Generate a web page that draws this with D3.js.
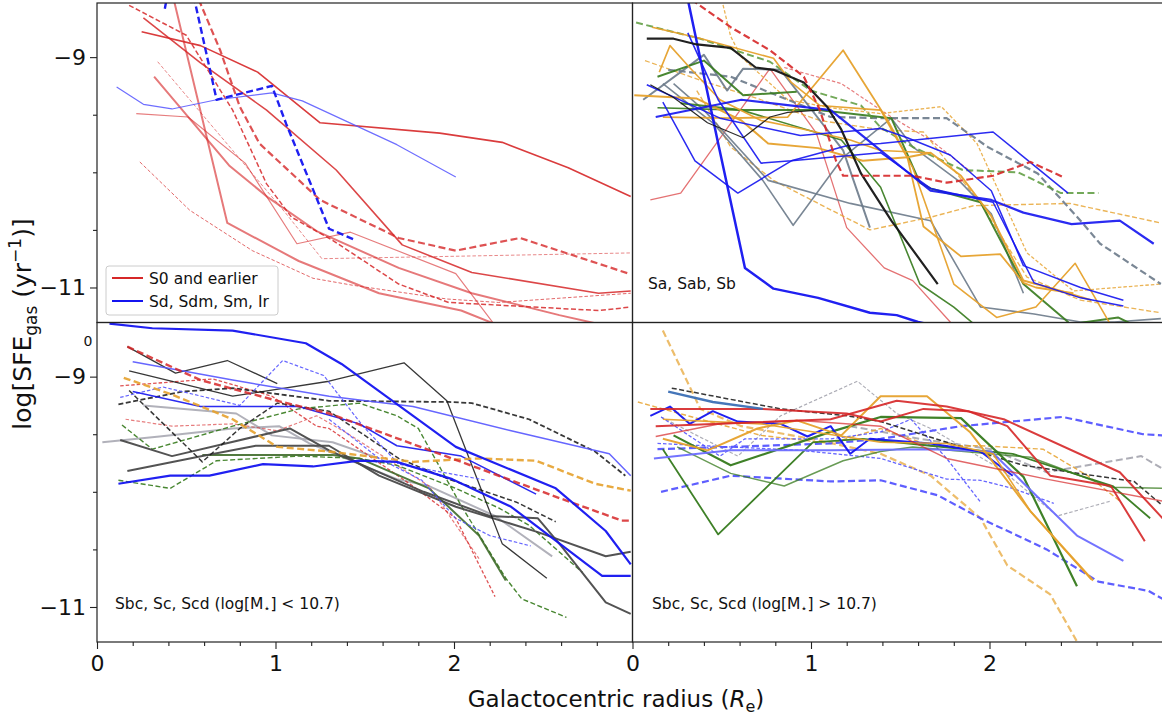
<!DOCTYPE html>
<html>
<head>
<meta charset="utf-8">
<script src="https://cdnjs.cloudflare.com/ajax/libs/d3/7.8.5/d3.min.js"></script>
<style>
body { margin: 0; background: #fff; }
text { font-family: "DejaVu Sans", sans-serif; fill: #111; }
</style>
</head>
<body>
<svg id="chart" width="1162" height="717"></svg>
<script>
// ---- tick values / labels ----
var xMajor = [0, 1, 2];
var xMinor = [0.2, 0.4, 0.6, 0.8, 1.2, 1.4, 1.6, 1.8, 2.2, 2.4, 2.6, 2.8];
var yMajor = [-9, -11];
var yMinor = [-9.5, -10, -10.5];
var panelNames = ["", "Sa, Sab, Sb", "Sbc, Sc, Scd (log[M", "Sbc, Sc, Scd (log[M"];
var panelTails = ["", "", "] < 10.7)", "] > 10.7)"];
var legendLabels = ["S0 and earlier", "Sd, Sdm, Sm, Ir"];

// ---- top left: S0 and earlier / Sd, Sdm, Sm, Ir ----
var tlBlueThin = [[0.11,-9.26],[0.26,-9.41],[0.42,-9.45],[0.67,-9.37],[0.98,-9.31],[1.15,-9.38],[1.68,-9.76],[2.01,-10.04]];
var tlBlueDash = [[0.38,-8.58],[0.46,-7.9],[0.67,-9.37],[0.98,-9.25],[1.06,-9.58],[1.30,-10.49],[1.45,-10.59]];
var tlRedA = [[0.25,-8.78],[0.58,-8.90],[0.90,-9.13],[1.25,-9.57],[1.92,-9.66],[2.27,-9.74],[2.64,-9.96],[2.99,-10.21]];
var tlRedB = [[0.26,-8.66],[0.58,-9.05],[0.95,-9.46],[1.34,-9.98],[1.71,-10.63],[2.10,-10.87],[2.81,-11.05],[2.99,-11.03]];
var tlRedC = [[0.43,-8.5],[0.73,-10.44],[1.13,-10.77],[1.58,-11.05],[2.04,-11.20],[2.25,-11.33]];
var tlRedD = [[0.32,-9.17],[0.74,-9.94],[0.96,-10.22],[1.23,-10.51],[1.69,-10.83],[2.10,-11.05],[2.59,-11.24],[2.99,-11.38]];
var tlRedE = [[0.22,-9.49],[0.51,-9.52],[0.83,-9.92],[1.12,-10.62],[1.42,-10.52],[2.01,-10.88],[2.24,-11.35]];
var tlRedDashA = [[0.57,-8.5],[0.69,-8.94],[0.80,-9.43],[0.91,-9.75],[1.25,-10.24],[1.69,-10.57],[2.01,-10.68],[2.37,-10.57],[2.98,-10.88]];
var tlRedDashB = [[0.18,-8.55],[0.50,-8.81],[0.76,-9.46],[0.95,-10.10],[1.09,-10.39],[1.32,-10.59],[1.69,-10.97],[1.97,-11.13],[2.81,-11.20],[2.99,-11.17]];
var tlRedDashC = [[0.34,-9.04],[0.76,-9.81],[1.06,-10.36],[1.26,-10.75],[1.97,-10.73],[2.99,-10.70]];
var tlRedDashD = [[0.24,-9.91],[0.52,-10.33],[0.87,-10.68],[1.21,-10.92],[1.43,-10.98],[1.96,-11.10],[2.25,-11.13],[2.99,-11.05]];

// ---- top right: Sa, Sab, Sb ----
var trBlack1 = [[0.08,-8.84],[0.23,-8.84],[0.36,-8.89],[0.55,-8.92],[0.69,-9.09],[0.79,-9.11],[0.96,-9.22],[1.09,-9.43],[1.17,-9.63],[1.28,-10.01],[1.45,-10.42],[1.71,-10.97]];
var trBlack2 = [[0.10,-9.24],[0.23,-9.35],[0.42,-9.57],[0.62,-9.70],[0.77,-9.52],[0.87,-9.48],[1.04,-9.46]];
var trBlue1 = [[0.31,-8.5],[0.48,-9.75],[0.63,-10.83],[0.79,-11.01],[1.04,-11.09],[1.33,-11.22],[1.48,-11.24],[1.60,-11.30],[1.75,-11.35]];
var trBlue2 = [[0.31,-8.79],[0.48,-9.37],[0.72,-9.92],[0.89,-9.90],[1.20,-9.77],[1.39,-9.75],[2.02,-9.65],[2.44,-10.18]];
var trBlue3 = [[0.13,-9.52],[0.61,-9.37],[1.11,-9.46],[1.39,-9.81],[1.67,-10.16],[2.01,-10.24],[2.19,-10.35],[2.46,-10.45],[2.73,-10.42],[2.92,-10.62]];
var trBlue4 = [[0.08,-9.24],[0.49,-9.53],[0.94,-9.68],[1.39,-9.62],[1.54,-9.70],[1.78,-9.85],[2.01,-10.16],[2.19,-10.81],[2.51,-11.00],[2.75,-11.11]];
var trBlue5 = [[0.17,-9.39],[0.35,-9.90],[0.59,-10.18],[0.89,-9.90],[1.39,-9.83],[1.67,-10.14],[2.02,-10.26],[2.25,-10.96],[2.51,-11.09],[2.75,-11.16]];
var trOrange1 = [[0.17,-9.52],[0.55,-9.53],[0.87,-9.52],[1.18,-8.94],[1.43,-9.55],[1.54,-9.87],[1.63,-10.47],[1.84,-10.73],[2.06,-10.71],[2.19,-10.96],[2.26,-11.00],[2.47,-11.05]];
var trOrange2 = [[0.11,-8.74],[0.36,-8.83],[0.79,-9.01],[0.89,-9.22],[1.05,-9.42],[1.39,-9.46],[1.57,-9.96],[1.80,-10.97],[2.04,-11.26],[2.26,-11.17],[2.48,-10.79],[2.67,-11.30],[2.70,-11.4]];
var trOrange3 = [[0.15,-9.13],[0.21,-8.90],[0.32,-9.09],[0.49,-9.37],[0.72,-9.55],[0.94,-9.62],[1.22,-9.72],[1.39,-9.81],[1.67,-9.83]];
var trOrange4 = [[0.01,-9.33],[0.36,-9.36],[0.61,-9.55],[0.76,-9.75],[1.04,-9.79],[1.29,-9.90],[1.54,-9.87],[1.67,-9.83],[1.84,-10.03],[2.01,-10.38],[2.19,-10.94],[2.40,-11.03],[2.57,-11.11]];
var trOrangeDash1 = [[0.50,-8.5],[0.55,-8.82],[0.61,-9.0],[0.87,-9.37],[1.11,-9.44],[1.39,-9.49],[1.73,-9.43],[1.93,-9.75],[2.21,-10.70],[2.47,-11.03],[2.96,-10.97]];
var trOrangeDash2 = [[0.36,-9.29],[0.55,-9.78],[0.79,-10.07],[1.04,-10.27],[1.33,-10.50],[1.67,-10.39],[1.91,-10.29],[2.45,-10.27],[2.96,-10.44]];
var trOrangeDash3 = [[0.07,-9.03],[0.38,-9.20],[0.72,-9.37],[1.05,-9.55],[1.39,-9.63],[1.63,-9.65],[1.95,-10.27],[2.21,-10.91],[2.51,-11.11],[2.96,-11.22]];
var trGreen1 = [[0.14,-9.17],[0.40,-9.03],[0.62,-9.33],[0.92,-9.30]];
var trGreen2 = [[0.14,-9.44],[0.61,-9.46],[1.17,-9.72],[1.39,-10.13],[1.61,-10.97],[1.80,-11.17],[1.90,-11.30],[1.95,-11.4]];
var trGreen3 = [[0.27,-9.40],[0.61,-9.46],[1.04,-9.46],[1.45,-9.53],[1.61,-10.09],[1.67,-10.14],[1.95,-10.26],[2.19,-10.97],[2.44,-11.30],[2.48,-11.4]];
var trGreen4 = [[2.45,-11.32],[2.72,-11.26],[2.80,-11.32]];
var trGreenDash = [[0.02,-8.70],[0.38,-8.84],[0.77,-9.04],[1.00,-9.29],[1.28,-9.42],[1.39,-9.61],[1.57,-9.78],[1.85,-9.98],[2.16,-10.00],[2.40,-10.18],[2.61,-10.18]];
var trGrey1 = [[0.06,-9.37],[0.40,-8.98],[0.53,-9.29],[0.62,-9.10],[0.83,-9.11],[0.96,-9.37],[1.18,-9.81],[1.33,-10.48]];
var trGrey2 = [[0.17,-9.23],[0.45,-9.57],[0.73,-10.07],[0.90,-10.46],[1.18,-9.87],[1.45,-9.53],[1.57,-9.78],[1.84,-10.09],[2.01,-10.36],[2.19,-11.05]];
var trGrey3 = [[0.23,-9.23],[0.40,-9.46],[0.76,-10.07],[1.22,-10.27],[1.67,-10.42],[1.95,-11.17],[2.25,-11.23],[2.51,-11.30],[2.70,-11.30],[2.96,-11.27]];
var trGreyDash = [[0.20,-9.11],[0.55,-9.17],[1.11,-9.52],[1.39,-9.53],[1.76,-9.53],[1.99,-9.78],[2.27,-10.01],[2.51,-10.42],[2.62,-10.62],[2.96,-10.97]];
var trRedDash = [[0.33,-8.5],[0.55,-8.74],[0.77,-8.94],[0.96,-9.17],[1.05,-9.46],[1.14,-9.90],[1.18,-10.03],[1.57,-10.03],[1.76,-10.09],[2.02,-10.03],[2.23,-9.91],[2.41,-10.04]];
var trRedDashLight = [[0.85,-9.09],[1.17,-9.23],[1.45,-9.52],[1.67,-9.72],[1.90,-10.0]];
var trRedThin = [[0.10,-10.24],[0.27,-10.18],[0.77,-9.10],[1.03,-9.66],[1.20,-10.48],[1.41,-10.83],[1.57,-10.94],[1.78,-11.30],[1.80,-11.35]];

// ---- bottom left: Sbc, Sc, Scd, low mass ----
var blBlueTop = [[0.07,-8.54],[0.31,-8.58],[0.76,-8.60],[1.17,-8.71],[1.37,-8.89],[2.01,-9.61],[2.57,-9.97],[2.85,-10.34],[2.99,-10.63]];
var blBlack1 = [[0.17,-8.74],[0.44,-8.97],[0.73,-8.86],[1.01,-9.06]];
var blBlack2 = [[0.18,-8.95],[0.76,-9.17],[1.30,-9.04],[1.72,-8.88],[1.96,-9.21],[2.27,-10.45],[2.52,-10.75]];
var blBlackDash1 = [[0.12,-9.24],[0.48,-9.13],[0.76,-9.10],[1.30,-9.21],[1.97,-9.22],[2.10,-9.23],[2.42,-9.37],[2.79,-9.65],[2.96,-9.86]];
var blBlackDash2 = [[0.18,-9.12],[0.59,-9.74],[0.80,-9.45],[1.01,-9.23],[1.30,-9.30],[1.69,-9.71],[1.97,-9.89],[2.35,-10.09],[2.57,-10.26]];
var blDim1 = [[0.13,-9.55],[0.42,-9.69],[1.08,-9.45],[1.30,-9.64],[1.83,-10.00],[2.20,-10.21],[2.47,-10.23],[2.60,-10.47],[2.85,-10.96],[2.99,-11.06]];
var blDim2 = [[0.17,-9.82],[0.59,-9.69],[0.89,-9.60],[1.30,-9.60],[1.58,-9.86],[2.01,-10.13],[2.47,-10.35],[2.85,-10.56],[2.99,-10.52]];
var blSilver1 = [[0.03,-9.57],[0.35,-9.52],[0.76,-9.45],[1.02,-9.43],[1.19,-9.58],[1.47,-9.76],[1.68,-9.89],[1.86,-9.95],[2.23,-10.21],[2.55,-10.56]];
var blSilver2 = [[0.26,-9.25],[0.78,-9.32],[0.98,-9.51],[1.32,-9.57],[1.58,-9.71]];
var blBlueBot = [[0.12,-9.93],[0.41,-9.86],[0.63,-9.86],[0.93,-9.76],[1.21,-9.78],[1.47,-9.73],[1.68,-9.74],[1.99,-9.89],[2.32,-10.13],[2.83,-10.73],[2.99,-10.73]];
var blBlueMid = [[0.20,-8.87],[0.76,-9.03],[1.30,-9.17],[1.77,-9.26],[2.32,-9.47],[2.87,-9.67],[2.99,-9.86]];
var blBlue2 = [[0.20,-9.13],[0.58,-9.26],[1.13,-9.26],[1.47,-9.41],[1.68,-9.60],[2.04,-9.69],[2.46,-10.02]];
var blBlueDash1 = [[0.13,-9.18],[0.37,-9.09],[0.80,-9.25],[1.04,-8.86],[1.27,-8.99],[1.49,-9.43],[1.69,-9.76],[2.18,-9.90]];
var blBlueDash2 = [[1.30,-9.37],[1.58,-9.71],[1.82,-9.90],[2.01,-10.23],[2.20,-10.38],[2.43,-10.47]];
var blRedDash1 = [[0.17,-8.74],[0.58,-9.03],[1.01,-9.21],[1.30,-9.32],[1.69,-9.54],[2.04,-9.74],[2.60,-10.06],[2.94,-10.25],[2.99,-10.25]];
var blRedDash2 = [[0.13,-9.08],[0.65,-9.02],[0.98,-9.17],[1.23,-9.43],[1.30,-9.45],[1.77,-9.95],[2.01,-10.23],[2.23,-10.91]];
var blRedDash3 = [[0.16,-9.37],[0.42,-9.43],[0.76,-9.41],[1.01,-9.47],[1.23,-9.34],[1.39,-9.48],[1.60,-9.69],[1.86,-9.95],[2.14,-10.58]];
var blOrangeDash = [[0.15,-9.01],[0.41,-9.15],[0.76,-9.37],[1.01,-9.61],[1.30,-9.65],[1.77,-9.74],[2.14,-9.71],[2.46,-9.73],[2.79,-9.93],[2.99,-9.99]];
var blGreenDash1 = [[0.14,-9.42],[0.31,-9.63],[0.76,-9.43],[1.13,-9.28],[1.47,-9.23],[1.68,-9.34],[1.80,-9.45],[2.04,-10.12],[2.29,-10.75],[2.38,-10.93],[2.63,-11.09]];
var blGreenDash2 = [[0.12,-9.90],[0.41,-9.97],[0.67,-9.73],[1.13,-9.69],[1.47,-9.71],[1.68,-9.77],[2.01,-9.97],[2.25,-10.14],[2.42,-10.29],[2.72,-10.70]];
var blGreen = [[0.59,-9.68],[1.32,-9.68],[1.47,-9.71],[1.86,-9.97],[2.14,-10.38],[2.29,-10.77]];

// ---- bottom right: Sbc, Sc, Scd, high mass ----
var brOrangeDash1 = [[0.17,-8.60],[0.38,-9.28],[0.61,-9.43],[1.00,-9.54],[1.39,-9.67],[1.67,-9.86],[1.95,-10.23],[2.10,-10.64],[2.34,-10.89],[2.49,-11.30],[2.51,-11.4]];
var brOrangeDash2 = [[0.03,-9.22],[0.38,-9.37],[0.72,-9.51],[1.11,-9.58],[1.39,-9.45],[1.67,-9.60],[1.95,-9.60],[2.30,-9.63],[2.55,-9.86],[2.73,-10.08]];
var brOrange1 = [[0.17,-9.54],[0.42,-9.64],[0.70,-9.45],[0.92,-9.38],[1.17,-9.51],[1.39,-9.17],[1.65,-9.17],[1.89,-9.48],[2.23,-10.17],[2.58,-10.77]];
var brOrange2 = [[0.17,-9.37],[0.72,-9.41],[1.39,-9.57],[1.76,-9.58],[2.02,-9.67],[2.23,-10.17],[2.57,-10.76]];
var brRedA = [[0.10,-9.28],[0.73,-9.28],[1.20,-9.32],[1.39,-9.39],[1.63,-9.28],[1.88,-9.30],[2.10,-9.43],[2.34,-9.86],[2.68,-9.95],[2.87,-10.43]];
var brRedB = [[0.13,-9.43],[1.11,-9.37],[1.48,-9.21],[1.76,-9.26],[2.08,-9.37],[2.73,-9.83],[2.97,-10.23]];
var brRedC = [[0.13,-9.52],[0.49,-9.41],[0.94,-9.38],[1.39,-9.43],[1.76,-9.71],[2.32,-9.89],[2.97,-10.08]];
var brGreenA = [[0.23,-9.51],[0.55,-9.77],[1.11,-9.48],[1.39,-9.35],[1.84,-9.36],[2.19,-9.87],[2.49,-10.82]];
var brGreenB = [[0.17,-9.63],[0.48,-10.37],[1.01,-9.57],[1.29,-9.54],[1.67,-9.60],[2.13,-9.67],[2.69,-9.95],[2.90,-10.23]];
var brGreenC = [[0.25,-9.61],[0.55,-9.84],[0.85,-9.95],[1.18,-9.73],[1.39,-9.65],[1.57,-9.61],[2.23,-9.70],[2.68,-9.96],[2.97,-9.97]];
var brBlueZig = [[0.10,-9.34],[0.21,-9.26],[0.32,-9.41],[0.45,-9.30],[0.59,-9.39],[0.83,-9.41],[0.98,-9.52],[1.11,-9.43],[1.22,-9.67],[1.33,-9.54],[1.67,-9.58],[1.95,-9.65],[2.13,-9.86]];
var brBlueLight = [[0.12,-9.71],[0.55,-9.64],[1.11,-9.64],[1.67,-9.63],[2.01,-9.65],[2.49,-10.38],[2.75,-10.60]];
var brBlueDashLow = [[0.16,-10.00],[0.55,-9.86],[1.11,-9.91],[1.39,-9.90],[1.71,-10.03],[1.95,-10.23],[2.32,-10.50],[2.61,-10.78],[2.89,-10.86],[2.97,-10.93]];
var brBlueDashUp = [[0.14,-9.63],[0.55,-9.61],[1.11,-9.58],[1.39,-9.54],[1.84,-9.43],[2.41,-9.35],[2.86,-9.50],[2.97,-9.51]];
var brBlueDashThin1 = [[0.16,-9.35],[0.49,-9.69],[0.63,-9.54],[1.11,-9.54],[1.39,-9.48],[1.56,-9.37],[1.76,-9.71],[1.95,-10.09]];
var brBlueDashThin2 = [[0.14,-9.58],[0.94,-9.64],[1.39,-9.71],[1.76,-9.89],[1.95,-9.90],[2.13,-9.97],[2.36,-10.10]];
var brGreyDash1 = [[0.16,-9.35],[0.36,-9.51],[0.59,-9.69],[0.83,-9.34],[1.26,-9.04],[1.48,-9.32],[1.67,-9.45],[2.06,-9.80],[2.38,-10.21],[2.68,-10.08]];
var brGreyDash2 = [[1.22,-9.43],[1.61,-9.54],[2.01,-9.63],[2.32,-9.83],[2.85,-9.69],[2.97,-9.80]];
var brBlackDash = [[0.22,-9.10],[0.83,-9.28],[1.20,-9.34],[1.39,-9.39],[1.76,-9.57],[2.19,-9.77],[2.81,-9.91],[2.97,-10.12]];
var brSteel = [[0.20,-9.13],[0.45,-9.22],[0.73,-9.28]];

// ---- colours and styles (kept apart from the data) ----
var RED = "#d62728", BLUE = "#1414f0", BLUEL = "#5555ff", ORANGE = "#e6a12c",
    GREEN = "#357a1c", GREY = "#6c7a8a", DIM = "#4a4a4a", SILVER = "#a9a9b2",
    BLACK = "#151515", STEEL = "#3b6fb5";
var DASH = "7,3.5", DASHM = "5,2.5", DASHT = "3.5,2";

var styles = [
  // panel 0
  [0, tlRedDashC, RED, 1, DASHT, 0.55], [0, tlRedDashD, RED, 1, DASHT, 0.7],
  [0, tlRedE, RED, 1.2, null, 0.6], [0, tlRedC, RED, 2, null, 0.62], [0, tlRedD, RED, 2, null, 0.62],
  [0, tlRedA, RED, 1.6, null, 0.9], [0, tlRedB, RED, 1.6, null, 0.85],
  [0, tlRedDashB, RED, 1.5, DASHM, 0.85], [0, tlRedDashA, RED, 2.2, DASH, 0.8],
  [0, tlBlueThin, BLUEL, 1.2, null, 0.85], [0, tlBlueDash, BLUE, 2.4, DASH, 0.95],
  // panel 1
  [1, trRedThin, RED, 1.3, null, 0.65], [1, trRedDashLight, RED, 1.2, DASHT, 0.6],
  [1, trOrangeDash1, ORANGE, 1.3, DASHT, 0.8], [1, trOrangeDash2, ORANGE, 1.4, DASHM, 0.8], [1, trOrangeDash3, ORANGE, 1.3, DASHM, 0.8],
  [1, trGrey2, GREY, 1.6, null, 0.9], [1, trGrey3, GREY, 1.6, null, 0.9], [1, trGrey1, GREY, 2, null, 0.9],
  [1, trGreyDash, GREY, 2.2, DASH, 0.9],
  [1, trGreen2, GREEN, 1.6, null, 0.9], [1, trGreen3, GREEN, 2, null, 0.9], [1, trGreen1, GREEN, 2, null, 0.9], [1, trGreen4, GREEN, 2, null, 0.9],
  [1, trGreenDash, "#5b9a3c", 2, DASH, 0.85],
  [1, trOrange3, ORANGE, 1.6, null, 0.95], [1, trOrange4, ORANGE, 2, null, 0.95], [1, trOrange2, ORANGE, 1.6, null, 0.95], [1, trOrange1, ORANGE, 1.8, null, 0.95],
  [1, trBlue4, BLUE, 1.5, null, 0.9], [1, trBlue5, BLUE, 1.5, null, 0.9], [1, trBlue2, BLUE, 1.6, null, 0.9],
  [1, trBlue3, BLUE, 2.2, null, 0.9], [1, trBlue1, BLUE, 2.5, null, 0.95],
  [1, trBlack2, BLACK, 1.2, null, 0.9], [1, trBlack1, BLACK, 2.2, null, 0.95],
  [1, trRedDash, RED, 2.2, DASH, 0.9],
  // panel 2
  [2, blSilver2, SILVER, 2, null, 0.9], [2, blSilver1, SILVER, 2, null, 0.9],
  [2, blRedDash3, RED, 1.2, DASHT, 0.6], [2, blRedDash2, RED, 1.3, DASHT, 0.8],
  [2, blGreenDash1, GREEN, 1.4, DASHM, 0.9], [2, blGreenDash2, GREEN, 1.4, DASHM, 0.9],
  [2, blGreen, "#3f6b2a", 2, null, 0.9],
  [2, blDim1, DIM, 2, null, 0.95], [2, blDim2, DIM, 2, null, 0.95],
  [2, blBlack1, BLACK, 1.3, null, 0.85], [2, blBlack2, BLACK, 1.3, null, 0.85],
  [2, blBlackDash1, BLACK, 1.8, DASHM, 0.85], [2, blBlackDash2, BLACK, 1.5, DASHM, 0.85],
  [2, blBlueDash1, BLUEL, 1.2, DASHT, 0.9], [2, blBlueDash2, BLUEL, 1.2, DASHT, 0.9],
  [2, blBlueMid, BLUEL, 1.5, null, 0.9], [2, blBlue2, BLUE, 1.5, null, 0.9],
  [2, blOrangeDash, ORANGE, 2.4, DASH, 0.9], [2, blRedDash1, RED, 2.4, DASH, 0.85],
  [2, blBlueBot, BLUE, 2.2, null, 0.95], [2, blBlueTop, BLUE, 2.2, null, 0.95],
  // panel 3
  [3, brGreyDash1, SILVER, 1.2, DASHT, 0.95], [3, brGreyDash2, SILVER, 2, DASH, 0.95],
  [3, brOrangeDash2, ORANGE, 1.4, DASHM, 0.85], [3, brOrangeDash1, ORANGE, 2.2, DASH, 0.7],
  [3, brBlueDashThin1, BLUEL, 1.3, DASHT, 0.9], [3, brBlueDashThin2, BLUEL, 1.3, DASHT, 0.9],
  [3, brBlueDashLow, BLUEL, 2.2, DASH, 0.95], [3, brBlueDashUp, BLUEL, 2.2, DASH, 0.95],
  [3, brBlackDash, BLACK, 1.5, DASHM, 0.85],
  [3, brGreenC, GREEN, 1.5, null, 0.75], [3, brGreenB, GREEN, 1.8, null, 0.95], [3, brGreenA, GREEN, 2.2, null, 0.95],
  [3, brBlueLight, "#6b6bff", 2, null, 0.95], [3, brBlueZig, BLUE, 2, null, 0.95],
  [3, brOrange2, ORANGE, 1.6, null, 0.95], [3, brOrange1, ORANGE, 2, null, 0.95],
  [3, brRedC, RED, 1.5, null, 0.7], [3, brRedA, RED, 2, null, 0.9], [3, brRedB, RED, 2, null, 0.9],
  [3, brSteel, STEEL, 2.4, null, 0.95]
];

// ---- layout ----
var svg = d3.select("#chart");
var xL = d3.scaleLinear().domain([0, 3]).range([97, 632.5]);
var xR = d3.scaleLinear().domain([0, 3]).range([632.5, 1168]);
var yT = d3.scaleLinear().domain([-11.304, -8.53]).range([322.5, 3]);
var yB = d3.scaleLinear().domain([-11.304, -8.53]).range([642, 322.5]);
var panels = [
  {x: xL, y: yT}, {x: xR, y: yT}, {x: xL, y: yB}, {x: xR, y: yB}
];

var defs = svg.append("defs");
panels.forEach(function(p, i) {
  defs.append("clipPath").attr("id", "clip" + i)
    .append("rect")
    .attr("x", p.x.range()[0]).attr("y", p.y.range()[1])
    .attr("width", p.x.range()[1] - p.x.range()[0])
    .attr("height", p.y.range()[0] - p.y.range()[1]);
});

// lines
styles.forEach(function(s) {
  var p = panels[s[0]];
  var gen = d3.line().x(function(d) { return p.x(d[0]); }).y(function(d) { return p.y(d[1]); });
  svg.append("path")
    .attr("clip-path", "url(#clip" + s[0] + ")")
    .attr("d", gen(s[1]))
    .attr("fill", "none")
    .attr("stroke", s[2])
    .attr("stroke-width", s[3])
    .attr("stroke-dasharray", s[4])
    .attr("stroke-opacity", s[5])
    .attr("stroke-linejoin", "round");
});

// frames
panels.forEach(function(p) {
  svg.append("rect")
    .attr("x", p.x.range()[0]).attr("y", p.y.range()[1])
    .attr("width", p.x.range()[1] - p.x.range()[0])
    .attr("height", p.y.range()[0] - p.y.range()[1])
    .attr("fill", "none").attr("stroke", "#222").attr("stroke-width", 1.2);
});

function minus(v) { return String(v).replace("-", "\u2212"); }

// y axes on the left panels
[yT, yB].forEach(function(y) {
  var gMaj = svg.append("g").attr("transform", "translate(97,0)")
    .call(d3.axisLeft(y).tickValues(yMajor).tickSize(7).tickPadding(4).tickFormat(minus));
  var gMin = svg.append("g").attr("transform", "translate(97,0)")
    .call(d3.axisLeft(y).tickValues(yMinor).tickSize(4).tickFormat(""));
  [gMaj, gMin].forEach(function(g) {
    g.select(".domain").remove();
    g.selectAll(".tick line").attr("stroke", "#222").attr("stroke-width", 1.1);
  });
  gMaj.selectAll("text").attr("font-size", 22).attr("font-family", "DejaVu Sans").attr("fill", "#111");
});

// x axes on the bottom panels
[xL, xR].forEach(function(x) {
  var gMaj = svg.append("g").attr("transform", "translate(0,642)")
    .call(d3.axisBottom(x).tickValues(xMajor).tickSize(7).tickPadding(6).tickFormat(d3.format("d")));
  var gMin = svg.append("g").attr("transform", "translate(0,642)")
    .call(d3.axisBottom(x).tickValues(xMinor).tickSize(4).tickFormat(""));
  [gMaj, gMin].forEach(function(g) {
    g.select(".domain").remove();
    g.selectAll(".tick line").attr("stroke", "#222").attr("stroke-width", 1.1);
  });
  gMaj.selectAll("text").attr("font-size", 22).attr("font-family", "DejaVu Sans").attr("fill", "#111");
});

// stray label left of the lower panel
svg.append("text").attr("x", 88).attr("y", 346).attr("text-anchor", "middle")
  .attr("font-size", 14).text("0");

// axis titles
var xt = svg.append("text").attr("x", 616).attr("y", 707).attr("text-anchor", "middle").attr("font-size", 23);
xt.append("tspan").text("Galactocentric radius (");
xt.append("tspan").attr("font-style", "italic").text("R");
xt.append("tspan").attr("font-size", 16).attr("dy", 5).text("e");
xt.append("tspan").attr("dy", -5).text(")");

var yt = svg.append("text").attr("transform", "translate(31,324) rotate(-90)")
  .attr("text-anchor", "middle").attr("font-size", 25);
yt.append("tspan").text("log[SFE");
yt.append("tspan").attr("font-size", 17).attr("dy", 6).text("gas");
yt.append("tspan").attr("dy", -6).text(" (yr");
yt.append("tspan").attr("font-size", 17).attr("dy", -10).text("\u22121");
yt.append("tspan").attr("dy", 10).text(")]");

// panel captions
var capPos = [null, [648, 289], [115, 609], [652, 609]];
[1, 2, 3].forEach(function(i) {
  var t = svg.append("text").attr("x", capPos[i][0]).attr("y", capPos[i][1]).attr("font-size", 15.5);
  t.append("tspan").text(panelNames[i]);
  if (panelTails[i]) {
    t.append("tspan").attr("font-size", 11).attr("dy", 3).text("\u22c6");
    t.append("tspan").attr("dy", -3).text(panelTails[i]);
  }
});

// legend
var leg = svg.append("g");
leg.append("rect").attr("x", 106).attr("y", 266).attr("width", 172).attr("height", 49)
  .attr("rx", 3).attr("fill", "#fff").attr("fill-opacity", 0.85)
  .attr("stroke", "#ccc").attr("stroke-width", 1);
var legColors = [RED, BLUE];
legendLabels.forEach(function(l, i) {
  var yy = 278 + i * 23;
  leg.append("line").attr("x1", 112).attr("x2", 143).attr("y1", yy).attr("y2", yy)
    .attr("stroke", legColors[i]).attr("stroke-width", 2);
  leg.append("text").attr("x", 149).attr("y", yy + 5.5).attr("font-size", 15.5).text(l);
});
</script>
</body>
</html>
